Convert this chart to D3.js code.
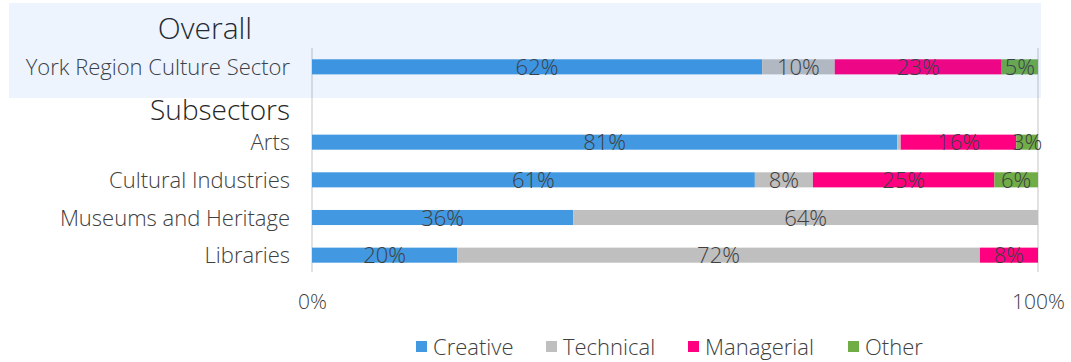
<!DOCTYPE html>
<html>
<head>
<meta charset="utf-8">
<script src="https://cdn.jsdelivr.net/npm/d3@7"></script>
<style>
  html, body { margin: 0; padding: 0; background: #fff; }
  svg { display: block; font-family: "Open Sans", "Noto Sans", sans-serif; font-weight: 300; }
</style>
</head>
<body>
<svg id="chart" width="1071" height="362"></svg>
<script>
// Occupation mix by sector (share of workers, %)
const rows = ["York Region Culture Sector", "Subsectors", "Arts", "Cultural Industries", "Museums and Heritage", "Libraries"];
const seriesNames = ["Creative", "Technical", "Managerial", "Other"];
const seriesColors = ["#4299e1", "#bfbfbf", "#ff0080", "#70ad47"];
const creative   = [62, null, 81, 61, 36, 20];
const technical  = [10, null, 0.5, 8, 64, 72];
const managerial = [23, null, 16, 25, 0, 8];
const other      = [5, null, 3, 6, 0, 0];
const tickValues = [0, 1];

const series = [creative, technical, managerial, other];
const svg = d3.select("#chart");
const textColor = "#404040";

const x = d3.scaleLinear().domain([0, 1]).range([312, 1038]);
const y = d3.scaleBand().domain(rows).range([48, 274]).paddingInner(0.6).paddingOuter(0.3);

// Gridlines at 0% and 100%
svg.append("g").selectAll("line").data(tickValues).join("line")
  .attr("x1", d => x(d)).attr("x2", d => x(d))
  .attr("y1", 48).attr("y2", 272)
  .attr("stroke", "#d9d9d9").attr("stroke-width", 1.5);

// Stacked (normalised to 100%) segments
const segs = [];
rows.forEach((r, i) => {
  if (series[0][i] === null) return;
  const total = d3.sum(series, s => s[i]);
  let acc = 0;
  series.forEach((s, k) => {
    const v = s[i];
    segs.push({ row: r, k, v, x0: acc / total, x1: (acc + v) / total });
    acc += v;
  });
});

const gBars = svg.append("g");
gBars.selectAll("rect").data(segs.filter(d => d.v > 0)).join("rect")
  .attr("x", d => x(d.x0))
  .attr("width", d => x(d.x1) - x(d.x0))
  .attr("y", d => y(d.row))
  .attr("height", y.bandwidth())
  .attr("fill", d => seriesColors[d.k]);

// Value labels
gBars.selectAll("text").data(segs.filter(d => d.v >= 1)).join("text")
  .attr("x", d => (x(d.x0) + x(d.x1)) / 2)
  .attr("y", d => y(d.row) + y.bandwidth() / 2 + 8)
  .attr("text-anchor", "middle")
  .attr("font-size", 22)
  .attr("fill", textColor)
  .text(d => d.v + "%");

// Category labels
const gCat = svg.append("g");
rows.forEach(r => {
  const header = r === "Subsectors";
  gCat.append("text")
    .attr("x", 290)
    .attr("y", y(r) + y.bandwidth() / 2 + (header ? 15 : 8))
    .attr("text-anchor", "end")
    .attr("font-size", header ? 28 : 22)
    .attr("fill", header ? "#262626" : textColor)
    .text(r);
});

// Section title
svg.append("text")
  .attr("x", 205).attr("y", 39)
  .attr("text-anchor", "middle")
  .attr("font-size", 30)
  .attr("fill", "#262626")
  .text("Overall");

// X axis tick labels
const xAxis = d3.axisBottom(x).tickValues(tickValues).tickFormat(d3.format(".0%")).tickSize(0).tickPadding(0);
const gx = svg.append("g").attr("transform", "translate(0,296)").call(xAxis);
gx.select(".domain").remove();
gx.selectAll("text")
  .attr("font-family", "Open Sans, sans-serif")
  .attr("font-weight", 300)
  .attr("font-size", 21)
  .attr("fill", textColor)
  .attr("dy", "0.6em");

// Highlight band over the overall row
svg.append("rect")
  .attr("x", 9).attr("y", 3).attr("width", 1032).attr("height", 95)
  .attr("fill", "rgb(0,100,220)").attr("fill-opacity", 0.07);

// Legend
const legendX = [416, 546, 688, 848];
const gLeg = svg.append("g");
seriesNames.forEach((n, k) => {
  gLeg.append("rect")
    .attr("x", legendX[k]).attr("y", 341).attr("width", 11).attr("height", 11)
    .attr("fill", seriesColors[k]);
  gLeg.append("text")
    .attr("x", legendX[k] + 17).attr("y", 355)
    .attr("font-size", 22)
    .attr("fill", textColor)
    .text(n);
});
</script>
</body>
</html>
